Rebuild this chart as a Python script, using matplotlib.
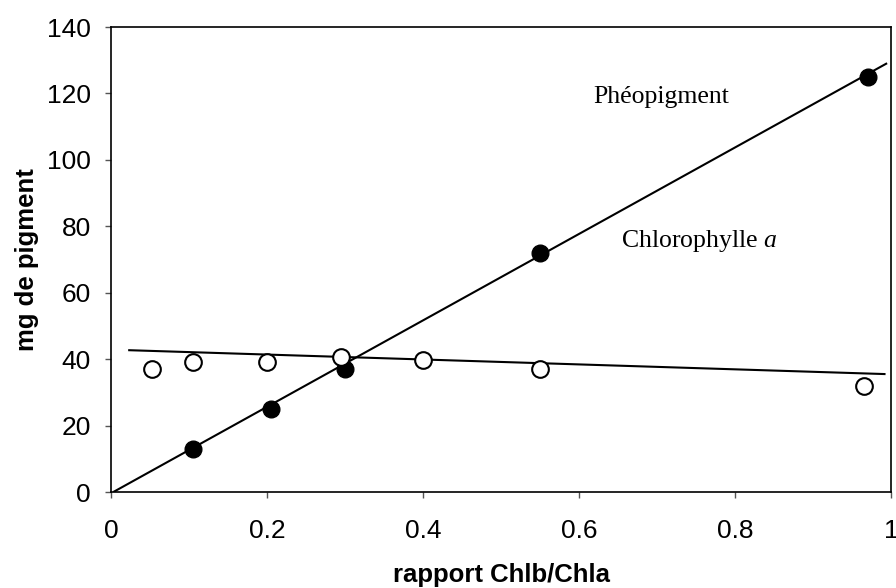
import numpy as np
import matplotlib
matplotlib.use("Agg")
import matplotlib.pyplot as plt

plt.rcParams['font.family'] = ['Liberation Sans', 'DejaVu Sans']
plt.rcParams['mathtext.fontset'] = 'custom'
plt.rcParams['mathtext.rm'] = 'Liberation Serif'
plt.rcParams['mathtext.it'] = 'Liberation Serif:italic'

# Phéopigment (filled circles)
pheo_x = [0.105, 0.205, 0.30, 0.55, 0.97]
pheo_y = [13, 25, 37, 72, 125]
# Chlorophylle a (open circles)
chla_x = [0.053, 0.105, 0.20, 0.295, 0.40, 0.55, 0.965]
chla_y = [37, 39, 39, 40.5, 39.8, 37, 32]
# trend lines (end points)
pheo_trend_x = [0.003, 0.995]
pheo_trend_y = [0.0, 129.1]
chla_trend_x = [0.022, 0.993]
chla_trend_y = [42.7, 35.5]

xticks = [0, 0.2, 0.4, 0.6, 0.8, 1]
xtick_labels = ['0', '0.2', '0.4', '0.6', '0.8', '1']
yticks = [0, 20, 40, 60, 80, 100, 120, 140]

fig = plt.figure(figsize=(8.96, 5.88), dpi=100)
ax = fig.add_axes([111 / 896, 96 / 588, 780 / 896, 465 / 588])

ax.plot(pheo_trend_x, pheo_trend_y, color='black', lw=1.5, solid_capstyle='butt')
ax.plot(chla_trend_x, chla_trend_y, color='black', lw=1.5, solid_capstyle='butt')
ax.plot(pheo_x, pheo_y, 'o', color='black', ms=12, zorder=3)
ax.plot(chla_x, chla_y, 'o', mfc='white', mec='black', mew=1.5, ms=12, zorder=3)

# series labels
ax.text(0.706, 119, 'Phéopigment', family='Liberation Serif', fontsize=18.5,
        ha='center', va='center')
ax.text(0.754, 75.6, r'Chlorophylle $a$', family='Liberation Serif', fontsize=18.5,
        ha='center', va='center')

ax.set_xlim(0, 1)
ax.set_ylim(0, 140)
ax.set_xticks(xticks)
ax.set_xticklabels(xtick_labels)
ax.set_yticks(yticks)
ax.tick_params(direction='out', length=4.5, width=1, labelsize=19, color='#555555')
ax.tick_params(axis='x', pad=15)
ax.tick_params(axis='y', pad=10)
for s in ax.spines.values():
    s.set_linewidth(1.2)

ax.set_xlabel('rapport Chlb/Chla', fontsize=18.5, fontweight='bold', labelpad=14)
ax.set_ylabel('mg de pigment', fontsize=18.5, fontweight='bold', labelpad=6)

fig.savefig('out.png', dpi=100)
